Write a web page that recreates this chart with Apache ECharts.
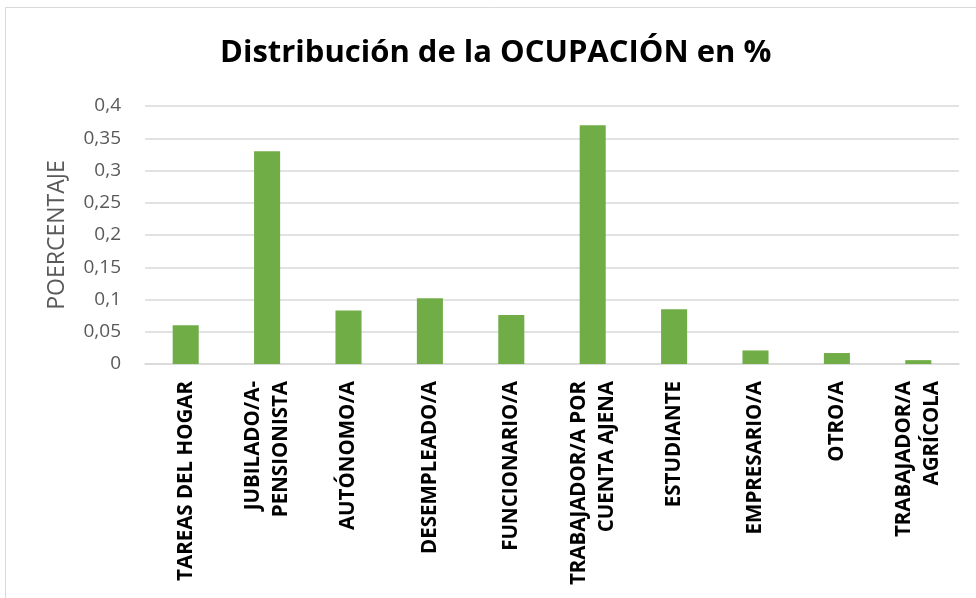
<!DOCTYPE html>
<html>
<head>
<meta charset="utf-8">
<script src="https://cdn.jsdelivr.net/npm/echarts@6/dist/echarts.min.js"></script>
<style>
  html, body { margin: 0; padding: 0; background: #fff; }
  #chart { width: 976px; height: 598px; }
</style>
</head>
<body>
<div id="chart"></div>
<script>
// categories and values
const categories = [
  'TAREAS DEL HOGAR',
  'JUBILADO/A-\nPENSIONISTA',
  'AUTÓNOMO/A',
  'DESEMPLEADO/A',
  'FUNCIONARIO/A',
  'TRABAJADOR/A POR\nCUENTA AJENA',
  'ESTUDIANTE',
  'EMPRESARIO/A',
  'OTRO/A',
  'TRABAJADOR/A\nAGRÍCOLA'
];
const porcentaje = [0.06, 0.33, 0.083, 0.102, 0.076, 0.37, 0.085, 0.021, 0.017, 0.006];
const yTicks = { min: 0, max: 0.4, interval: 0.05 };

const chart = echarts.init(document.getElementById('chart'), null, { renderer: 'canvas' });

const fmt = v => String(+v.toFixed(2)).replace('.', ',');

chart.setOption({
  animation: false,
  backgroundColor: '#fff',
  graphic: [{
    type: 'rect',
    shape: { x: 5.5, y: 7.5, width: 1200, height: 1200 },
    style: { fill: 'none', stroke: '#d9d9d9', lineWidth: 1 },
    silent: true
  }],
  title: {
    text: 'Distribución de la OCUPACIÓN en %',
    left: 215,
    top: 33,
    textStyle: { fontFamily: 'Open Sans', fontWeight: 'bold', fontSize: 31, color: '#000' }
  },
  grid: { left: 145, right: 17, top: 106, bottom: 234 },
  xAxis: {
    type: 'category',
    data: categories,
    axisLine: { lineStyle: { color: '#d9d9d9', width: 1.5 } },
    axisTick: { show: false },
    axisLabel: {
      rotate: 90,
      interval: 0,
      margin: 17,
      lineHeight: 28,
      fontFamily: 'Open Sans',
      fontWeight: 'bold',
      fontSize: 20.5,
      color: '#000'
    }
  },
  yAxis: {
    type: 'value',
    min: yTicks.min,
    max: yTicks.max,
    interval: yTicks.interval,
    name: 'POERCENTAJE',
    nameLocation: 'middle',
    nameGap: 76,
    nameTextStyle: { fontFamily: 'Open Sans', fontSize: 23, color: '#595959' },
    axisLine: { show: false },
    axisTick: { show: false },
    axisLabel: {
      formatter: fmt,
      margin: 24,
      fontFamily: 'Open Sans',
      fontSize: 19,
      color: '#595959'
    },
    splitLine: { lineStyle: { color: '#d9d9d9', width: 1.5 } }
  },
  series: [{
    type: 'bar',
    data: porcentaje,
    barWidth: '32%',
    itemStyle: { color: '#70ad47' }
  }]
});
</script>
</body>
</html>
